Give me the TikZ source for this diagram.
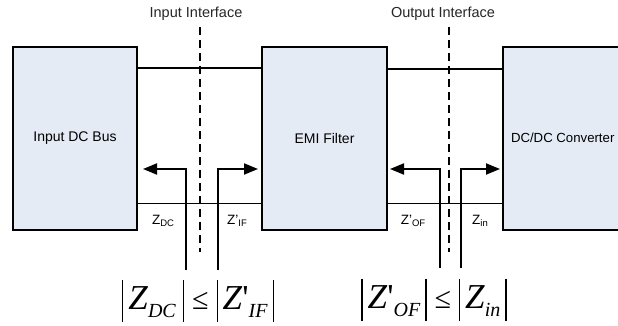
\documentclass[tikz,border=0pt]{standalone}
\usepackage{fontspec}
\setmainfont{Liberation Sans}
\newfontfamily\tms{Liberation Serif}
\usetikzlibrary{arrows.meta}
\definecolor{boxfill}{HTML}{E5EBF5}
\newcommand\absbar{\raisebox{-13pt}{\rule{1.1pt}{42pt}}}
\newcommand\bigsub[1]{\raisebox{-8pt}{\fontsize{20}{20}\selectfont\textit{#1}}}
\newcommand\smsub[1]{\raisebox{-2.5pt}{\fontsize{9.5}{10}\selectfont #1}}
\newcommand\leqsym{{\fontsize{30}{30}\selectfont ≤}}
\begin{document}
\begin{tikzpicture}[x=1pt,y=-1pt,
  blk/.style={draw=black,line width=2pt,fill=boxfill,inner sep=0pt,font=\fontsize{14}{16}\selectfont},
  wire/.style={line width=1.7pt},
  iface/.style={line width=2pt,dash pattern=on 8pt off 5pt},
  zarrow/.style={line width=2pt,-{Triangle[length=14pt,width=11pt]}},
  lbl/.style={font=\fontsize{14.5}{16}\selectfont,inner sep=0pt,text=black!85},
  zlbl/.style={font=\fontsize{13.5}{15}\selectfont,inner sep=0pt},
  formula/.style={font=\tms\fontsize{35}{37}\selectfont,inner sep=0pt,anchor=base}]
\useasboundingbox (0,0) rectangle (618,326);
% blocks
\node[blk,minimum width=124pt,minimum height=183pt] (bus) at (75,138.5) {Input DC Bus};
\node[blk,minimum width=125pt,minimum height=183pt] (emi) at (324.5,138.5) {EMI Filter};
\node[blk,minimum width=147pt,minimum height=183pt] (conv) at (576.5,138.5) {};
\node[blk,draw=none,fill=none,anchor=west,font=\fontsize{13.2}{15}\selectfont] (convtxt) at (510,138) {DC/DC Converter};
% wires
\draw[wire] (bus.east |- 0,68) -- (emi.west |- 0,68);
\draw[wire] (bus.east |- 0,203.5) -- (emi.west |- 0,203.5);
\draw[wire] (emi.east |- 0,69) -- (conv.west |- 0,69);
\draw[wire] (emi.east |- 0,203.5) -- (conv.west |- 0,203.5);
% interfaces
\node[lbl] (inif) at (196,14) {Input Interface};
\node[lbl] (outif) at (443,14) {Output Interface};
\coordinate (inbot) at (200,252);
\coordinate (outbot) at (449,252);
\draw[iface] (inif.south -| inbot) ++(0,6) -- (inbot);
\draw[iface] (outif.south -| outbot) ++(0,6) -- (outbot);
% impedance arrows
\coordinate (a1) at (186,270);
\coordinate (a2) at (218,270);
\coordinate (a3) at (440,268);
\coordinate (a4) at (461,268);
\draw[zarrow] (a1) |- (143,169);
\draw[zarrow] (a2) |- (258,169);
\draw[zarrow] (a3) |- (390,169);
\draw[zarrow] (a4) |- (500,169);
% labels
\node[zlbl] (zdc) at (163,221) {Z\smsub{DC}};
\node[zlbl] (zif) at (237,221) {Z'\smsub{IF}};
\node[zlbl] (zof) at (413,221) {Z'\smsub{OF}};
\node[zlbl] (zin) at (480,221) {Z\smsub{in}};
% formulas
\node[formula] (f1) at (198,309) {\absbar\hspace{5pt}\textit{Z}\bigsub{DC}\hspace{7pt}\absbar\hspace{8pt}\leqsym\hspace{8pt}\absbar\hspace{5pt}\textit{Z}'\bigsub{IF}\hspace{5pt}\absbar};
\node[formula] (f2) at (434,308) {\absbar\hspace{5pt}\textit{Z}'\bigsub{OF}\hspace{5pt}\absbar\hspace{8pt}\leqsym\hspace{8pt}\absbar\hspace{5pt}\textit{Z}\bigsub{in}\hspace{5pt}\absbar};
\end{tikzpicture}
\end{document}
